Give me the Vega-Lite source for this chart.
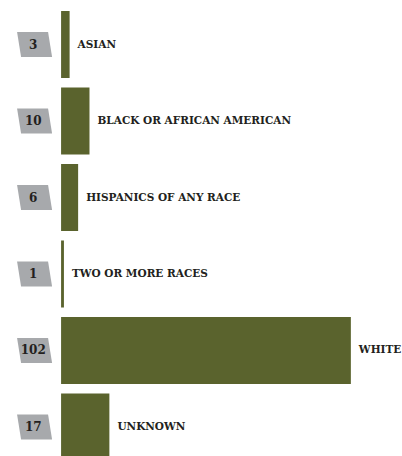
{
  "$schema": "https://vega.github.io/schema/vega-lite/v6.json",
  "width": 402,
  "height": 456,
  "padding": 0,
  "autosize": {"type": "none"},
  "config": {"view": {"stroke": null}},
  "data": {"values": [
    {"race": "ASIAN", "n": 3},
    {"race": "BLACK OR AFRICAN AMERICAN", "n": 10},
    {"race": "HISPANICS  OF ANY RACE", "n": 6},
    {"race": "TWO OR MORE RACES", "n": 1},
    {"race": "WHITE", "n": 102},
    {"race": "UNKNOWN", "n": 17}
  ]},
  "encoding": {
    "y": {"field": "race", "type": "nominal", "sort": null,
      "scale": {"range": [0, 471.5], "paddingInner": 0.124, "paddingOuter": 0.144},
      "axis": null}
  },
  "layer": [
    {
      "mark": {"type": "bar", "color": "#5a632d"},
      "encoding": {
        "x": {"field": "n", "type": "quantitative",
          "scale": {"domain": [-21.5, 120], "nice": false, "zero": false},
          "axis": null}
      }
    },
    {
      "mark": {"type": "point", "filled": true, "opacity": 1, "color": "#a7a9ac", "size": 625,
        "shape": "M -1.4 -1 L 1.08 -1 L 1.4 1 L -1.08 1 Z"},
      "encoding": {"x": {"datum": -9.33}}
    },
    {
      "mark": {"type": "text", "font": "DejaVu Serif", "fontWeight": "bold", "fontSize": 12,
        "color": "#231f20", "align": "center", "baseline": "middle"},
      "encoding": {"x": {"datum": -9.8}, "text": {"field": "n", "type": "quantitative"}}
    },
    {
      "mark": {"type": "text", "font": "DejaVu Serif", "fontWeight": "bold", "fontSize": 10.5,
        "color": "#231f20", "align": "left", "baseline": "middle", "dx": 8},
      "encoding": {"x": {"field": "n", "type": "quantitative"}, "text": {"field": "race", "type": "nominal"}}
    }
  ]
}
